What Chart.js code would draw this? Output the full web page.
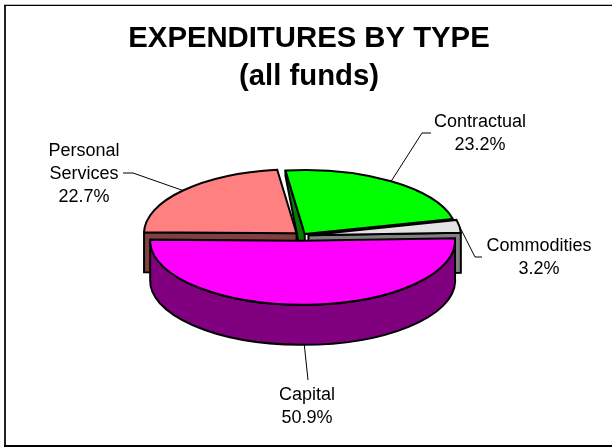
<!DOCTYPE html>
<html>
<head>
<meta charset="utf-8">
<style>
html,body{margin:0;padding:0;background:#fff;}
canvas{display:block;}
</style>
<script src="https://cdn.jsdelivr.net/npm/chart.js@4/dist/chart.umd.js"></script>
</head>
<body>
<div style="width:612px;height:447px"><canvas id="c" width="612" height="447"></canvas></div>
<script>
// Expenditures by type, percent of all funds
const categories = ['Personal Services', 'Contractual', 'Commodities', 'Capital'];
const labelLines = [['Personal', 'Services'], ['Contractual'], ['Commodities'], ['Capital']];
const shares = [22.7, 23.2, 3.2, 50.9];
const titleLines = ['EXPENDITURES BY TYPE', '(all funds)'];

const topColors = ['#FF8080', '#00FF00', '#E3E3E3', '#FF00FF'];
const wallColors = ['#804040', '#008000', '#808080', '#800080'];

// Tilted-pie geometry
const pie = { x: 302.5, y: 235.5, squash: 0.42, depth: 40, backDepth: 5, radius: 152.5 };
const explode = [8, 4, 6, 12.5];
const paintOrder = [1, 0, 2, 3];
const outlineWidth = 2;

// Label blocks and leader elbows
const labelBoxes = [
  { x: 84, y: 151, lead: [[133, 173], [123, 173]] },
  { x: 480, y: 122, lead: [[422, 133], [431, 133]] },
  { x: 539, y: 246, lead: [[475, 257], [482, 257]] },
  { x: 307, y: 395, lead: [[308, 380]] }
];
const labelFont = '18px "Liberation Sans", Arial, sans-serif';
const labelLineHeight = 23;

function sliceGeometry(arc, i) {
  const p = arc.getProps(['startAngle', 'endAngle', 'outerRadius', 'x', 'y'], true);
  const mid = (p.startAngle + p.endAngle) / 2;
  const cx = pie.x + Math.cos(mid) * explode[i];
  const cy = pie.y + Math.sin(mid) * explode[i] * pie.squash;
  return {
    cx, cy, mid,
    rx: p.outerRadius,
    ry: p.outerRadius * pie.squash,
    a0: p.startAngle,
    a1: p.endAngle,
    px: p.x,
    py: p.y
  };
}

function pointAt(g, a, drop) {
  return [g.cx + Math.cos(a) * g.rx, g.cy + Math.sin(a) * g.ry + (drop || 0)];
}

function polygon(ctx, pts, fill) {
  ctx.beginPath();
  pts.forEach((q, n) => (n ? ctx.lineTo(q[0], q[1]) : ctx.moveTo(q[0], q[1])));
  ctx.closePath();
  ctx.fillStyle = fill;
  ctx.fill();
  ctx.stroke();
}

function drawWall(ctx, g, i) {
  const c = [g.cx, g.cy];
  const cd = [g.cx, g.cy + pie.depth];
  if (i === 0) {
    const e = pointAt(g, g.a0);
    polygon(ctx, [e, c, cd, pointAt(g, g.a0, pie.depth)], wallColors[i]);
  } else if (i === 1) {
    const e = pointAt(g, g.a0);
    polygon(ctx, [e, c, cd, pointAt(g, g.a0, pie.backDepth)], wallColors[i]);
  } else if (i === 2) {
    const e = pointAt(g, g.a1);
    polygon(ctx, [c, e, pointAt(g, g.a1, pie.depth), cd], wallColors[i]);
  } else {
    ctx.beginPath();
    ctx.ellipse(g.cx, g.cy, g.rx, g.ry, 0, g.a0, g.a1);
    ctx.ellipse(g.cx, g.cy + pie.depth, g.rx, g.ry, 0, g.a1, g.a0, true);
    ctx.closePath();
    ctx.fillStyle = wallColors[i];
    ctx.fill();
    ctx.stroke();
  }
}

const tiltedPie = {
  id: 'tiltedPie',
  beforeDraw(chart) {
    const ctx = chart.ctx;
    ctx.save();
    ctx.fillStyle = '#fff';
    ctx.fillRect(0, 0, chart.width, chart.height);
    // Page frame: heavier on the left, open on the right
    ctx.fillStyle = '#222';
    ctx.fillRect(4, 5, 2, 442);
    ctx.fillStyle = '#000';
    ctx.fillRect(4, 5, 608, 1);
    ctx.fillRect(4, 445, 608, 2);
    ctx.fillStyle = '#bbb';
    ctx.fillRect(4, 4, 608, 1);
    ctx.restore();
  },
  beforeDatasetDraw(chart, args) {
    const ctx = chart.ctx;
    const arcs = args.meta.data;
    const geo = arcs.map(sliceGeometry);
    ctx.save();
    ctx.lineJoin = 'miter';
    ctx.miterLimit = 3;
    ctx.strokeStyle = '#000';
    paintOrder.forEach(i => {
      const g = geo[i];
      ctx.lineWidth = outlineWidth;
      drawWall(ctx, g, i);
      // Top face: the library fills the arc inside a flattened coordinate system
      ctx.save();
      ctx.translate(g.cx, g.cy);
      ctx.scale(1, pie.squash);
      ctx.translate(-g.px, -g.py);
      arcs[i].draw(ctx);
      ctx.restore();
      ctx.beginPath();
      ctx.moveTo(g.cx, g.cy);
      ctx.ellipse(g.cx, g.cy, g.rx, g.ry, 0, g.a0, g.a1);
      ctx.closePath();
      ctx.stroke();
    });
    ctx.restore();
    return false;
  },
  afterDatasetsDraw(chart) {
    const ctx = chart.ctx;
    const geo = chart.getDatasetMeta(0).data.map(sliceGeometry);
    ctx.save();
    ctx.strokeStyle = '#000';
    ctx.lineWidth = 1;
    geo.forEach((g, i) => {
      const start = pointAt(g, g.mid, i === 3 ? pie.depth : 0);
      ctx.beginPath();
      ctx.moveTo(start[0], start[1]);
      labelBoxes[i].lead.forEach(q => ctx.lineTo(q[0], q[1]));
      ctx.stroke();
    });
    ctx.fillStyle = '#000';
    ctx.font = labelFont;
    ctx.textAlign = 'center';
    ctx.textBaseline = 'middle';
    labelLines.forEach((lines, i) => {
      const box = labelBoxes[i];
      [...lines, shares[i].toFixed(1) + '%'].forEach((t, n) => {
        ctx.fillText(t, box.x, box.y + n * labelLineHeight);
      });
    });
    ctx.restore();
  }
};

new Chart(document.getElementById('c'), {
  type: 'pie',
  data: {
    labels: categories,
    datasets: [{
      data: shares,
      backgroundColor: topColors,
      borderWidth: 0,
      hoverOffset: 0,
      offset: 0
    }]
  },
  options: {
    responsive: false,
    animation: false,
    events: [],
    rotation: -89,
    radius: pie.radius,
    layout: { padding: { left: 6, top: 20 } },
    plugins: {
      legend: { display: false },
      tooltip: { enabled: false },
      title: {
        display: true,
        text: titleLines,
        color: '#000',
        font: { family: '"Liberation Sans", Arial, sans-serif', size: 29.3, weight: 'bold', lineHeight: 1.3 },
        padding: 0
      }
    }
  },
  plugins: [tiltedPie]
});
</script>
</body>
</html>
